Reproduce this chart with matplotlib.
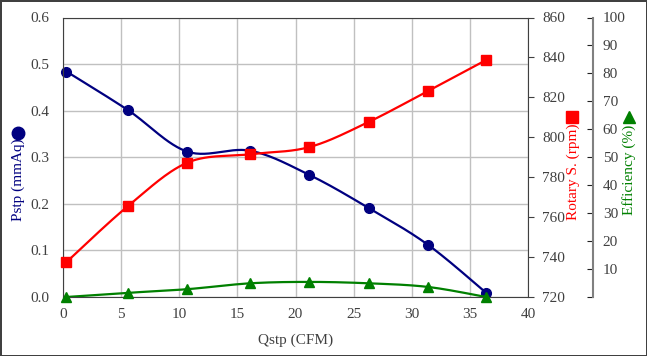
import numpy as np
import matplotlib
matplotlib.use("Agg")
import matplotlib.pyplot as plt
from matplotlib.lines import Line2D

plt.rcParams['font.family'] = ['Liberation Serif', 'DejaVu Serif']

qstp = [0.3, 5.6, 10.7, 16.1, 21.2, 26.3, 31.4, 36.4]
pstp = [0.484, 0.401, 0.312, 0.314, 0.262, 0.191, 0.112, 0.009]
rpm = [737.5, 765.6, 787.3, 791.5, 795.1, 807.7, 823.2, 838.7]
eff = [0.0, 1.5, 2.8, 4.9, 5.4, 4.9, 3.6, 0.0]

x_ticks = list(range(0, 41, 5))
p_ticks = [0.0, 0.1, 0.2, 0.3, 0.4, 0.5, 0.6]
r_ticks = list(range(720, 861, 20))
e_ticks = list(range(0, 101, 10))

BLUE = '#000080'
RED = '#ff0000'
GREEN = '#008000'
TXT = '#404040'


def smooth(xs, ys, n=30):
    # bezier smoothing between points (similar to spreadsheet "smoothed line")
    p = np.column_stack([xs, ys]).astype(float)
    p = np.vstack([p[0], p, p[-1]])
    out = []
    t = np.linspace(0, 1, n)[:, None]
    for i in range(1, len(p) - 2):
        p0, p1 = p[i], p[i + 1]
        c1 = p0 + (p[i + 1] - p[i - 1]) / 6
        c2 = p1 - (p[i + 2] - p[i]) / 6
        seg = ((1 - t) ** 3) * p0 + 3 * ((1 - t) ** 2) * t * c1 + 3 * (1 - t) * t ** 2 * c2 + t ** 3 * p1
        out.append(seg if i == 1 else seg[1:])
    out = np.vstack(out)
    return out[:, 0], out[:, 1]


fig = plt.figure(figsize=(6.47, 3.56), dpi=100)
fig.patch.set_edgecolor('#404040')
fig.patch.set_linewidth(2)

W, H = 647, 356
x0, x1, y0, y1 = 63, 528, 17.5, 297
ax = fig.add_axes([x0 / W, 1 - y1 / H, (x1 - x0) / W, (y1 - y0) / H])
ax2 = ax.twinx()
ax3 = ax.twinx()

# left axis: Pstp
sx, sy = smooth(qstp, pstp)
ax.plot(sx, sy, color=BLUE, lw=1.6)
ax.plot(qstp, pstp, 'o', color=BLUE, ms=7, clip_on=False)
ax.set_xlim(0, 40)
ax.set_ylim(0, 0.6)
ax.set_xticks(x_ticks)
ax.set_yticks(p_ticks)
ax.set_yticklabels([f'{v:.1f}' for v in p_ticks])
ax.grid(True, color='#c0c0c0', lw=1)
ax.set_axisbelow(True)
ax.tick_params(axis='x', length=0, labelsize=11, labelcolor=TXT, pad=8)
ax.tick_params(axis='y', length=0, labelsize=11, labelcolor=TXT, pad=10)
for s in ax.spines.values():
    s.set_color('#404040')
ax.spines['right'].set_visible(False)

# rotary speed
sx, sy = smooth(qstp, rpm)
ax2.plot(sx, sy, color=RED, lw=1.6)
ax2.plot(qstp, rpm, 's', color=RED, ms=7, clip_on=False)
ax2.set_ylim(720, 860)
ax2.set_yticks(r_ticks)
ax2.tick_params(axis='y', direction='out', length=4, color='#404040',
                labelsize=11, labelcolor=TXT, pad=6)
for k, s in ax2.spines.items():
    s.set_visible(k == 'right')
ax2.spines['right'].set_color('#404040')

# efficiency
sx, sy = smooth(qstp, eff)
ax3.plot(sx, sy, color=GREEN, lw=1.6)
ax3.plot(qstp, eff, '^', color=GREEN, ms=7, clip_on=False)
ax3.set_ylim(0, 100)
ax3.set_yticks(e_ticks)
ax3.set_yticklabels(['' if v == 0 else str(v) for v in e_ticks])
ax3.spines['right'].set_position(('axes', (593 - x0) / (x1 - x0)))
for k, s in ax3.spines.items():
    s.set_visible(k == 'right')
ax3.spines['right'].set_color('#808080')
ax3.spines['right'].set_linewidth(1.5)
ax3.tick_params(axis='y', direction='in', length=4, color='#202020',
                labelsize=11, labelcolor=TXT, pad=7)

ax.set_xlabel('Qstp (CFM)', fontsize=11, color=TXT, labelpad=9)

# y labels with series markers
fig.text(18 / W, 1 - 180 / H, 'Pstp (mmAq)', rotation=90, ha='center', va='center',
         color=BLUE, fontsize=11)
fig.text(573 / W, 1 - 172 / H, 'Rotary S. (rpm)', rotation=90, ha='center', va='center',
         color=RED, fontsize=11)
fig.text(629 / W, 1 - 170 / H, 'Efficiency (%)', rotation=90, ha='center', va='center',
         color=GREEN, fontsize=11)
for px, py, m, c in [(18, 133, 'o', BLUE), (572, 117, 's', RED), (629, 117, '^', GREEN)]:
    fig.add_artist(Line2D([px / W], [1 - py / H], transform=fig.transFigure,
                          marker=m, color=c, ms=9, ls='none'))

fig.savefig('out.png', dpi=100, edgecolor=fig.get_edgecolor())
